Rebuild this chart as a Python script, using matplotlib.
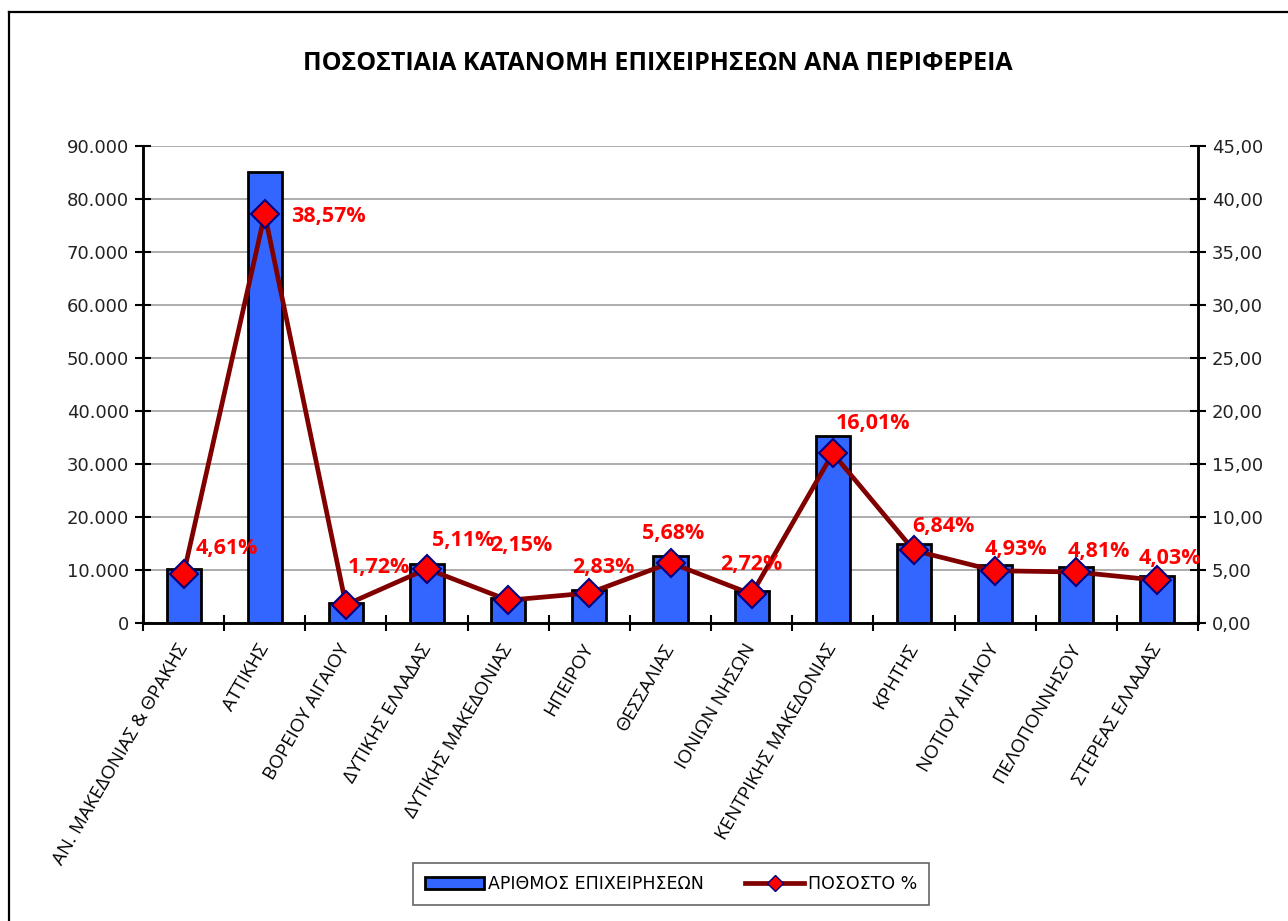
import matplotlib
matplotlib.use("Agg")
import matplotlib.pyplot as plt
from matplotlib.lines import Line2D
from matplotlib.patches import Patch
from matplotlib.ticker import FuncFormatter, MultipleLocator
import numpy as np

regions = ["ΑΝ. ΜΑΚΕΔΟΝΙΑΣ & ΘΡΑΚΗΣ", "ΑΤΤΙΚΗΣ", "ΒΟΡΕΙΟΥ ΑΙΓΑΙΟΥ",
           "ΔΥΤΙΚΗΣ ΕΛΛΑΔΑΣ", "ΔΥΤΙΚΗΣ ΜΑΚΕΔΟΝΙΑΣ", "ΗΠΕΙΡΟΥ", "ΘΕΣΣΑΛΙΑΣ",
           "ΙΟΝΙΩΝ ΝΗΣΩΝ", "ΚΕΝΤΡΙΚΗΣ ΜΑΚΕΔΟΝΙΑΣ", "ΚΡΗΤΗΣ", "ΝΟΤΙΟΥ ΑΙΓΑΙΟΥ",
           "ΠΕΛΟΠΟΝΝΗΣΟΥ", "ΣΤΕΡΕΑΣ ΕΛΛΑΔΑΣ"]
businesses = [10150, 85150, 3850, 11100, 4650, 6200, 12600, 6000, 35300,
              15000, 10900, 10650, 8950]
percent = [4.61, 38.57, 1.72, 5.11, 2.15, 2.83, 5.68, 2.72, 16.01, 6.84,
           4.93, 4.81, 4.03]

# label offsets in pixels (dx, dy) from each marker
label_offsets = [(43, 26), (64, -2), (33, 37), (36, 28), (13, 55), (14, 26),
                 (3, 29), (0, 30), (40, 30), (29, 24), (21, 21), (23, 21),
                 (12, 22)]

fig = plt.figure(figsize=(12.88, 9.21), dpi=100)
ax = fig.add_axes([143/1288, 1-623/921, (1198-143)/1288, (623-146)/921])
ax2 = ax.twinx()

x = np.arange(len(regions))
ax.bar(x, businesses, width=0.42, color="#3366FF", edgecolor="black",
       linewidth=2, zorder=3)
ax.set_xlim(-0.5, len(regions)-0.5)
ax.set_ylim(0, 90000)
ax.yaxis.set_major_locator(MultipleLocator(10000))
ax.yaxis.set_major_formatter(FuncFormatter(lambda v, p: f"{int(v):,}".replace(",", ".")))
ax.grid(axis="y", color="#A0A0A0", linewidth=1.2, zorder=0)
ax.set_axisbelow(True)

ax2.plot(x, percent, color="#800000", linewidth=3.4, marker="D",
         markersize=14, markerfacecolor="#FF0000", markeredgecolor="#000080",
         markeredgewidth=1.5, zorder=5)
ax2.set_ylim(0, 45)
ax2.yaxis.set_major_locator(MultipleLocator(5))
ax2.yaxis.set_major_formatter(FuncFormatter(lambda v, p: f"{v:.2f}".replace(".", ",")))

for xi, p, (dx, dy) in zip(x, percent, label_offsets):
    ax2.annotate(f"{p:.2f}%".replace(".", ","), (xi, p), xytext=(dx, dy),
                 textcoords="offset pixels", ha="center", va="center",
                 color="#FF0000", fontsize=15.5, fontweight="bold",
                 family="Open Sans", zorder=6)

for a in (ax, ax2):
    a.spines["top"].set_visible(False)
    for s in ("left", "right", "bottom"):
        a.spines[s].set_linewidth(1.8)
        a.spines[s].set_color("black")
    a.tick_params(axis="y", direction="inout", length=12, width=1.5,
                  labelsize=13, labelcolor="#222222", pad=4)

ax.set_xticks(np.arange(len(regions)+1)-0.5, minor=False)
ax.set_xticklabels([])
ax.tick_params(axis="x", direction="inout", length=12, width=1.5)
ax.set_xticks(x, minor=True)
ax.set_xticklabels(regions, minor=True, rotation=60, ha="right", va="center",
                   rotation_mode="anchor", family="Open Sans", fontsize=13.6)
ax.tick_params(axis="x", which="minor", length=0, pad=16)

fig.text(0.511, 1-64/921, "ΠΟΣΟΣΤΙΑΙΑ ΚΑΤΑΝΟΜΗ ΕΠΙΧΕΙΡΗΣΕΩΝ ΑΝΑ ΠΕΡΙΦΕΡΕΙΑ",
         ha="center", va="center", fontsize=18, fontweight="bold",
         family="Open Sans")

handles = [Patch(facecolor="#3366FF", edgecolor="black", linewidth=2),
           Line2D([], [], color="#800000", linewidth=3.4, marker="D",
                  markersize=8, markerfacecolor="#FF0000",
                  markeredgecolor="#000080")]
leg = fig.legend(handles, ["ΑΡΙΘΜΟΣ ΕΠΙΧΕΙΡΗΣΕΩΝ", "ΠΟΣΟΣΤΟ %"], ncol=2,
                 loc="center", bbox_to_anchor=(671/1288, 1-884/921),
                 fancybox=False, edgecolor="#404040", fontsize=12.5,
                 handlelength=3.4, handletextpad=0.2, columnspacing=2.4,
                 borderpad=0.7, borderaxespad=0)
leg.get_frame().set_linewidth(1.2)

# outer chart frame (left and top edges visible)
fig.add_artist(Line2D([9/1288, 9/1288], [0, 1-12.5/921], color="black",
                      linewidth=1.6, transform=fig.transFigure))
fig.add_artist(Line2D([9/1288, 1], [1-12.5/921, 1-12.5/921], color="black",
                      linewidth=1.6, transform=fig.transFigure))

fig.savefig("out.png", dpi=100)
